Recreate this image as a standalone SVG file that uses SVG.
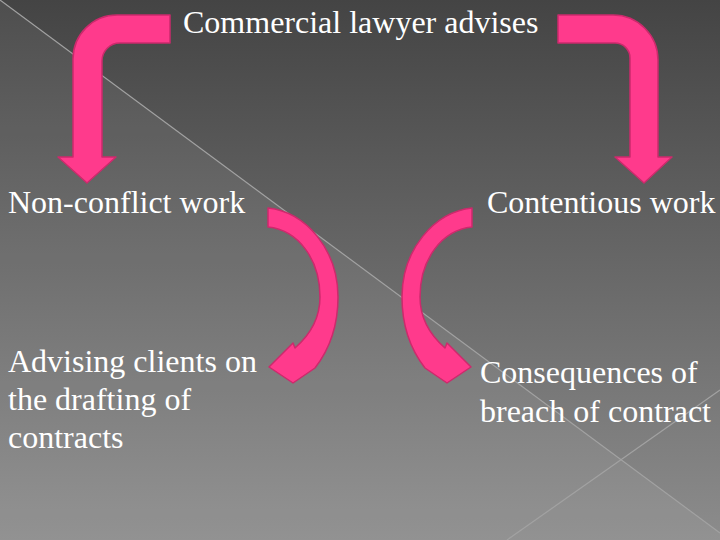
<svg xmlns="http://www.w3.org/2000/svg" width="720" height="540" viewBox="0 0 720 540">
  <defs>
    <linearGradient id="bg" x1="0" y1="0" x2="0" y2="1">
      <stop offset="0" stop-color="#444444"/>
      <stop offset="1" stop-color="#8c8c8c"/>
    </linearGradient>
    <style>
      .arrow { fill: #ff3a8c; stroke: #cc2a6c; stroke-width: 1.5; stroke-linejoin: round; }
      .deco { stroke: #a2a2a2; stroke-width: 1.2; fill: none; }
    </style>
  </defs>

  <!-- background -->
  <rect x="0" y="0" width="720" height="540" fill="url(#bg)"/>
  <polygon points="0,0 720,533 720,540 0,540" fill="#ffffff" fill-opacity="0.06"/>
  <line class="deco" x1="0" y1="0" x2="720" y2="533"/>
  <line class="deco" x1="720" y1="390" x2="507" y2="540"/>

  <!-- connectors -->
  <g id="connectors">
    <path id="arrow-top-left" class="arrow" d="M170,15 L117,15 A44,44 0 0 0 73,59 L73,157 L58,157 L87,183 L116,157 L102,157 L102,61 A18,18 0 0 1 120,43 L170,43 Z"/>
    <path id="arrow-top-right" class="arrow" d="M558,15 L613,15 A45,45 0 0 1 658,60 L658,157 L672,157 L644,183 L615,157 L630,157 L630,58 A15,15 0 0 0 615,43 L558,43 Z"/>
    <path id="arrow-left-curve" class="arrow" d="M268,208 C306,212 338,250 338,297 C338,326 329,350 315,368 L293,383 L269,367 L293,343 L295,348 C311,334 320,318 320,297 C320,259 298,230 268,227 Z"/>
    <path id="arrow-right-curve" class="arrow" d="M472,208 C434,212 402,250 402,297 C402,326 411,350 425,368 L447,383 L471,367 L447,343 L445,348 C429,334 420,318 420,297 C420,259 442,230 472,227 Z"/>
  </g>

  <!-- nodes -->
  <g font-family="Liberation Serif, DejaVu Serif, serif" font-size="32" fill="#ffffff">
    <g id="node-commercial">
      <text x="183" y="33">Commercial lawyer advises</text>
    </g>
    <g id="node-nonconflict">
      <text x="8" y="213">Non-conflict work</text>
    </g>
    <g id="node-contentious">
      <text x="487" y="213">Contentious work</text>
    </g>
    <g id="node-advising">
      <text x="8" y="372">Advising clients on</text>
      <text x="8" y="410">the drafting of</text>
      <text x="8" y="448">contracts</text>
    </g>
    <g id="node-consequences">
      <text x="480" y="383">Consequences of</text>
      <text x="480" y="422">breach of contract</text>
    </g>
  </g>
</svg>
